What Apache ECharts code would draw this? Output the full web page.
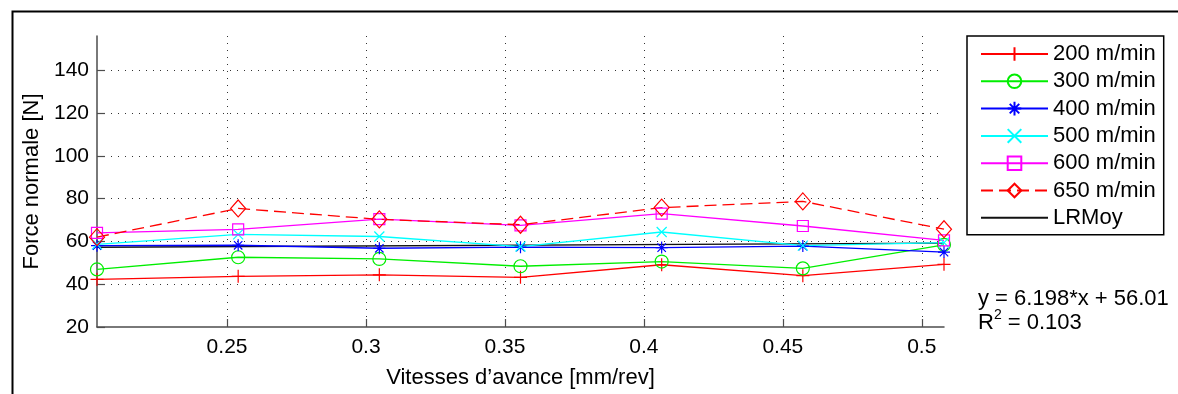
<!DOCTYPE html>
<html>
<head>
<meta charset="utf-8">
<script src="https://cdn.jsdelivr.net/npm/echarts@6/dist/echarts.min.js"></script>
<style>html,body{margin:0;padding:0;background:#fff}#c{width:1178px;height:394px}</style>
</head>
<body>
<div id="c"></div>
<script>
const xValues = [0.2032, 0.254, 0.3048, 0.3556, 0.4064, 0.4572, 0.508];
const s200 = [42.3, 43.7, 44.4, 43.2, 49.1, 44.0, 49.3];
const s300 = [46.9, 52.6, 51.8, 48.4, 50.6, 47.4, 58.4];
const s400 = [58.0, 58.2, 56.8, 57.3, 57.1, 57.8, 55.0];
const s500 = [58.6, 63.3, 62.3, 57.6, 64.4, 58.0, 59.4];
const s600 = [64.0, 65.6, 70.4, 67.5, 73.0, 67.2, 60.5];
const s650 = [62.0, 75.4, 70.3, 67.8, 75.8, 78.7, 65.7];
const lrX = [0.2032, 0.508];
const lrY = [57.27, 59.16];
const seriesNames = ['200 m/min', '300 m/min', '400 m/min', '500 m/min', '600 m/min', '650 m/min', 'LRMoy'];
const xTicks = [0.25, 0.3, 0.35, 0.4, 0.45, 0.5];
const yTicks = [20, 40, 60, 80, 100, 120, 140];
const xRange = [0.2032, 0.508];
const yRange = [20, 156];
const eqText = 'y = 6.198*x + 56.01';
const r2Text = '0.103';

const FONT = 'Liberation Sans, Arial, Helvetica, sans-serif';
const pair = (xs, ys) => xs.map((x, i) => [x, ys[i]]);

const SYM = {
  plus: 'path://M5,0L5,10M0,5L10,5',
  star: 'path://M5,0L5,10M0,5L10,5M1.5,1.5L8.5,8.5M1.5,8.5L8.5,1.5',
  cross: 'path://M0,0L10,10M0,10L10,0'
};

function mk(name, ys, color, symbol, size, dashed) {
  return {
    name: name,
    type: 'line',
    data: pair(xValues, ys),
    symbol: symbol,
    symbolSize: size,
    showSymbol: true,
    lineStyle: { color: color, width: 1.3, type: dashed ? [12, 6] : 'solid' },
    itemStyle: { color: 'transparent', borderColor: color, borderWidth: 1.2 },
    emphasis: { disabled: true },
    z: 3
  };
}

const chart = echarts.init(document.getElementById('c'), null, { renderer: 'canvas' });
chart.setOption({
  animation: false,
  backgroundColor: '#fff',
  textStyle: { fontFamily: FONT },
  grid: { left: 97, right: 234, top: 36, bottom: 63, containLabel: false },
  xAxis: {
    type: 'value', min: xRange[0], max: xRange[1],
    name: 'Vitesses d’avance [mm/rev]', nameLocation: 'middle', nameGap: 40,
    nameTextStyle: { fontSize: 22, color: '#000', fontFamily: FONT },
    axisLine: { show: true, onZero: false, lineStyle: { color: '#4d4d4d', width: 1.5 } },
    axisTick: { show: true, inside: true, length: 8, customValues: xTicks, lineStyle: { color: '#4d4d4d', width: 1.2 } },
    axisLabel: { customValues: xTicks, fontSize: 21, color: '#000', margin: 10, fontFamily: FONT,
      formatter: v => String(+v.toFixed(2)) },
    splitLine: { show: true, lineStyle: { color: '#333', width: 1, type: [1, 6] } }
  },
  yAxis: {
    type: 'value', min: yRange[0], max: yRange[1],
    name: 'Force normale [N]', nameLocation: 'middle', nameGap: 54, nameRotate: 90,
    nameTextStyle: { fontSize: 22, color: '#000', fontFamily: FONT },
    axisLine: { show: true, lineStyle: { color: '#4d4d4d', width: 1.5 } },
    axisTick: { show: true, inside: true, length: 8, customValues: yTicks, lineStyle: { color: '#4d4d4d', width: 1.2 } },
    axisLabel: { customValues: yTicks, fontSize: 21, color: '#000', margin: 8, fontFamily: FONT },
    splitLine: { show: true, showMinLine: false, lineStyle: { color: '#333', width: 1, type: [1, 6] } }
  },
  legend: {
    orient: 'vertical', left: 967, top: 36,
    data: seriesNames,
    itemWidth: 67, itemHeight: 17, itemGap: 5.3,
    padding: [7, 8, 6, 13],
    borderColor: '#000', borderWidth: 1.5, backgroundColor: '#fff',
    textStyle: { fontSize: 22, color: '#000', fontFamily: FONT },
    selectedMode: false
  },
  series: [
    mk(seriesNames[0], s200, '#ff0000', SYM.plus, 13, false),
    mk(seriesNames[1], s300, '#00ee00', 'circle', 13, false),
    mk(seriesNames[2], s400, '#0000ff', SYM.star, 12, false),
    mk(seriesNames[3], s500, '#00ffff', SYM.cross, 10, false),
    mk(seriesNames[4], s600, '#ff00ff', 'rect', 11, false),
    mk(seriesNames[5], s650, '#ff0000', 'diamond', [15, 17], true),
    {
      name: seriesNames[6], type: 'line', data: pair(lrX, lrY), symbol: 'none', showSymbol: false,
      lineStyle: { color: '#111', width: 1.3 }, itemStyle: { color: 'transparent', borderColor: 'transparent' },
      emphasis: { disabled: true }, z: 2
    }
  ],
  graphic: [
    { type: 'rect', left: 10, top: 9, shape: { width: 1300, height: 500 }, style: { fill: 'none', stroke: '#000', lineWidth: 2 }, silent: true, z: -10 },
    { type: 'text', left: 978, top: 288, style: { text: eqText, font: '22px ' + FONT, fill: '#000' } },
    { type: 'text', left: 978, top: 308, style: {
      text: '{r|R}{s|2}{r| = ' + r2Text + '}', fill: '#000',
      rich: { r: { fontSize: 22, fontFamily: FONT, verticalAlign: 'bottom', lineHeight: 26, fill: '#000' },
              s: { fontSize: 14, fontFamily: FONT, verticalAlign: 'top', fill: '#000' } } } }
  ]
});
</script>
</body>
</html>
